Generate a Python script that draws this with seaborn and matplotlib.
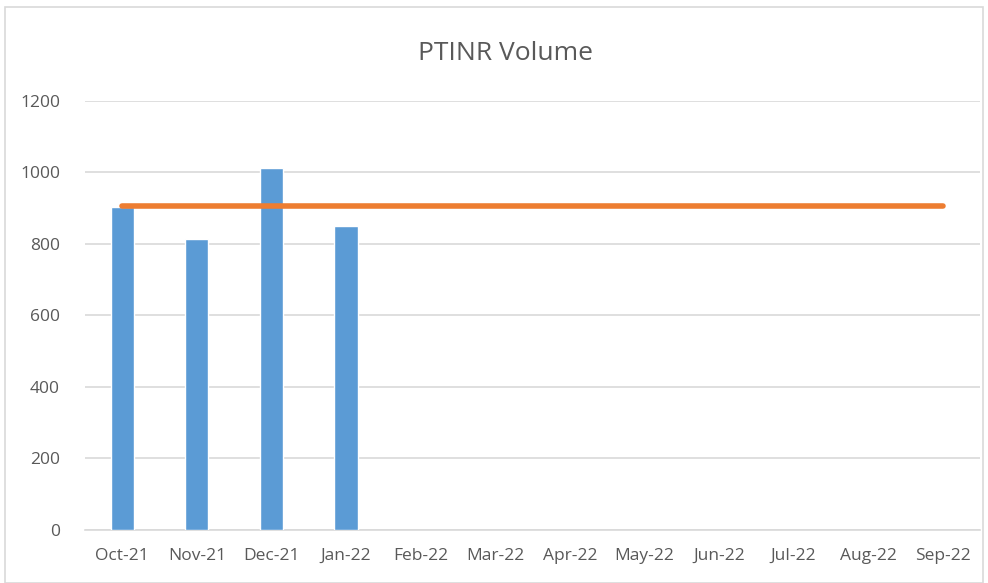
import matplotlib
matplotlib.use("Agg")
import matplotlib.pyplot as plt
import seaborn as sns
import pandas as pd
import numpy as np
from matplotlib.patches import Rectangle

months = ["Oct-21", "Nov-21", "Dec-21", "Jan-22", "Feb-22", "Mar-22",
          "Apr-22", "May-22", "Jun-22", "Jul-22", "Aug-22", "Sep-22"]
volume_months = ["Oct-21", "Nov-21", "Dec-21", "Jan-22"]
volume = [903, 813, 1012, 849]
target = [905] * 12

sns.set_theme(style="white")
plt.rcParams['font.family'] = ['Open Sans', 'DejaVu Sans']

fig = plt.figure(figsize=(9.88, 5.83), dpi=100)
ax = fig.add_axes([0.086, 0.091, 0.906, 0.736])

bars = pd.DataFrame({"month": volume_months, "volume": volume})
sns.barplot(data=bars, x="month", y="volume", order=months, color="#5B9BD5",
            width=0.31, saturation=1, ax=ax, zorder=3)

line = pd.DataFrame({"month": months, "target": target})
sns.pointplot(data=line, x="month", y="target", order=months, color="#ED7D31",
              markers="", linewidth=4, ax=ax, zorder=4)
for l in ax.lines:
    l.set_solid_capstyle("round")

ax.set_ylim(0, 1200)
ax.set_yticks(range(0, 1201, 200))
ax.set_xlim(-0.5, 11.5)
ax.yaxis.grid(True, color="#d9d9d9", linewidth=1.2, zorder=0)
ax.set_axisbelow(True)
for s in ["top", "right", "left"]:
    ax.spines[s].set_visible(False)
ax.spines["bottom"].set_color("#d9d9d9")
ax.spines["bottom"].set_linewidth(1.2)
ax.set_xlabel("")
ax.set_ylabel("")
ax.set_xticks(range(12))
ax.set_xticklabels(months)
ax.set_xticks(np.arange(-0.5, 12, 1), minor=True)
ax.tick_params(axis="x", which="major", length=0, pad=13, labelsize=12.5, labelcolor="#595959")
ax.tick_params(axis="x", which="minor", length=7, width=1.2, color="#d9d9d9", direction="out")
ax.tick_params(axis="y", length=0, pad=18, labelsize=12.5, labelcolor="#595959")

fig.text(0.512, 0.908, "PTINR Volume", ha="center", va="center", fontsize=19, color="#595959")

fig.patches.append(Rectangle((0.005, 0.0), 0.99, 0.988, transform=fig.transFigure,
                             fill=False, edgecolor="#d9d9d9", linewidth=1.2))

fig.savefig("out.png", dpi=100)
